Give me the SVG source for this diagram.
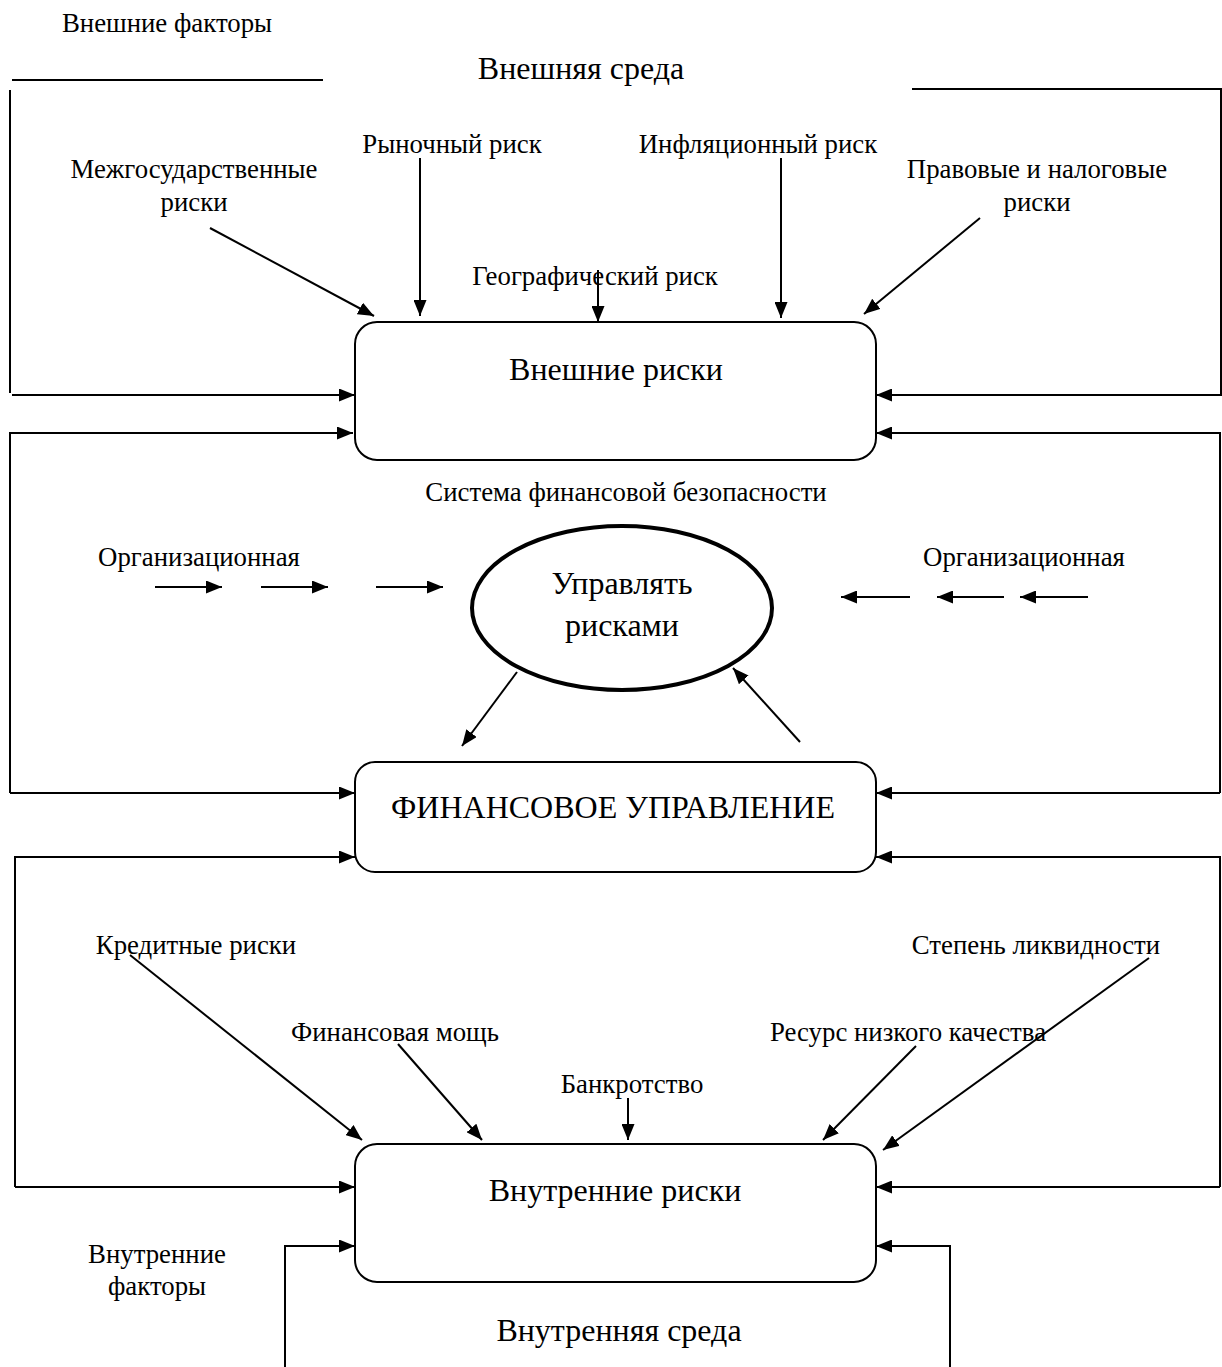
<svg xmlns="http://www.w3.org/2000/svg" width="1222" height="1367" viewBox="0 0 1222 1367">
<defs>
<marker id="ah" markerUnits="userSpaceOnUse" markerWidth="16" markerHeight="13" refX="16" refY="6.5" orient="auto">
<path d="M0,0 L16,6.5 L0,13 z" fill="#000"/>
</marker>
</defs>
<style>
text{font-family:"Liberation Serif","Times New Roman",serif;fill:#000;text-anchor:middle}
.s{font-size:26.8px}
.b{font-size:32px}
.ln{fill:none;stroke:#000;stroke-width:2}
.ar{fill:none;stroke:#000;stroke-width:2;marker-end:url(#ah)}
.box{fill:#fff;stroke:#000;stroke-width:2}
</style>
<rect width="1222" height="1367" fill="#fff"/>

<g id="labels">
<text class="s" x="167" y="32">Внешние факторы</text>
<text class="b" x="581" y="79">Внешняя среда</text>
<text class="s" x="194" y="178">Межгосударственные</text>
<text class="s" x="194" y="211">риски</text>
<text class="s" x="452" y="153">Рыночный риск</text>
<text class="s" x="595" y="285">Географический риск</text>
<text class="s" x="758" y="153">Инфляционный риск</text>
<text class="s" x="1037" y="178">Правовые и налоговые</text>
<text class="s" x="1037" y="211">риски</text>
<text class="s" x="626" y="501">Система финансовой безопасности</text>
<text class="s" x="199" y="566">Организационная</text>
<text class="s" x="1024" y="566">Организационная</text>
<text class="s" x="196" y="954">Кредитные риски</text>
<text class="s" x="395" y="1041">Финансовая мощь</text>
<text class="s" x="632" y="1093">Банкротство</text>
<text class="s" x="908" y="1041">Ресурс низкого качества</text>
<text class="s" x="1036" y="954">Степень ликвидности</text>
<text class="s" x="157" y="1263">Внутренние</text>
<text class="s" x="157" y="1295">факторы</text>
<text class="b" x="619" y="1341">Внутренняя среда</text>
</g>

<g id="connectors">
<path class="ln" d="M12,80 H323"/>
<path class="ln" d="M10,90 V393"/>
<path class="ar" d="M12,395 H355"/>
<path class="ar" d="M912,89 H1221 V395 H876"/>
<path class="ar" d="M10,793 V433 H353"/>
<path class="ar" d="M10,793 H355"/>
<path class="ar" d="M1220,793 V433 H876"/>
<path class="ar" d="M1220,793 H876"/>
<path class="ar" d="M15,1187 V857 H355"/>
<path class="ar" d="M15,1187 H355"/>
<path class="ar" d="M1220,1187 V857 H876"/>
<path class="ar" d="M1220,1187 H876"/>
<path class="ar" d="M285,1367 V1246 H355"/>
<path class="ar" d="M950,1367 V1246 H876"/>

<path class="ar" d="M210,228 L374,316"/>
<path class="ar" d="M420,158 V316"/>
<path class="ar" d="M598,270 V322"/>
<path class="ar" d="M781,158 V318"/>
<path class="ar" d="M980,218 L864,314"/>

<path class="ar" d="M155,587 H222"/>
<path class="ar" d="M261,587 H328"/>
<path class="ar" d="M376,587 H443"/>
<path class="ar" d="M910,597 H841"/>
<path class="ar" d="M1004,597 H937"/>
<path class="ar" d="M1088,597 H1020"/>
<path class="ar" d="M517,672 L462,746"/>
<path class="ar" d="M800,742 L733,668"/>

<path class="ar" d="M130,955 L362,1140"/>
<path class="ar" d="M398,1044 L482,1140"/>
<path class="ar" d="M628,1098 V1140"/>
<path class="ar" d="M916,1046 L823,1140"/>
<path class="ar" d="M1149,958 L883,1150"/>
</g>

<g id="node-external">
<rect class="box" x="355" y="322" width="521" height="138" rx="22"/>
<text class="b" x="616" y="380">Внешние риски</text>
</g>

<g id="node-manage">
<ellipse cx="622" cy="608" rx="150" ry="82" fill="#fff" stroke="#000" stroke-width="4"/>
<text class="b" x="622" y="594">Управлять</text>
<text class="b" x="622" y="636">рисками</text>
</g>

<g id="node-finance">
<rect class="box" x="355" y="762" width="521" height="110" rx="20"/>
<text class="b" x="613" y="818">ФИНАНСОВОЕ УПРАВЛЕНИЕ</text>
</g>

<g id="node-internal">
<rect class="box" x="355" y="1144" width="521" height="138" rx="22"/>
<text class="b" x="615" y="1201">Внутренние риски</text>
</g>
</svg>
